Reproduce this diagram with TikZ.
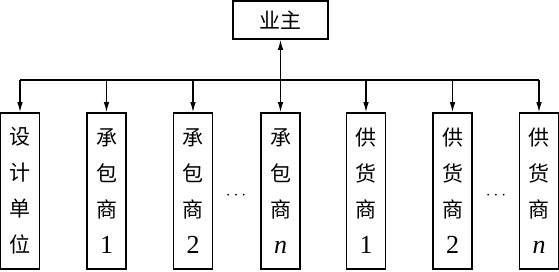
\documentclass[tikz,border=0pt]{standalone}
\usepackage{fontspec}
\setmainfont{Liberation Serif}
\newfontfamily\cjk{Noto Sans CJK SC}
\usetikzlibrary{arrows.meta}
\newcommand{\numtxt}[1]{{\rmfamily\fontsize{26}{36}\selectfont #1}}
\begin{document}
\begin{tikzpicture}[x=1pt,y=-1pt,
  box/.style={draw, line width=1.6pt, minimum width=39pt, minimum height=156pt, inner sep=0pt, align=center, font=\fontsize{21}{36}\selectfont\cjk},
  topbox/.style={draw, line width=1.6pt, minimum width=95pt, minimum height=38pt, inner sep=0pt, font=\fontsize{21}{24}\selectfont\cjk},
  conn/.style={line width=1.1pt},
  arr/.style={conn, -{Latex[length=10pt,width=5.5pt]}},
  darr/.style={conn, {Latex[length=10pt,width=5.5pt]}-{Latex[length=10pt,width=5.5pt]}},
  dotsstyle/.style={font=\fontsize{16}{16}\selectfont}]
\useasboundingbox (0,0) rectangle (559,271);
\node[topbox] (owner) at (280.5,20) {业主};
\node[box] (d)  at (20,191)    {设\\计\\单\\位};
\node[box] (c1) at (106.5,191) {承\\包\\商\\\numtxt{1}};
\node[box] (c2) at (193,191)   {承\\包\\商\\\numtxt{2}};
\node[box] (cn) at (280.5,191) {承\\包\\商\\\numtxt{\itshape n}};
\node[box] (s1) at (366,191)   {供\\货\\商\\\numtxt{1}};
\node[box] (s2) at (452.5,191) {供\\货\\商\\\numtxt{2}};
\node[box] (sn) at (539,191)   {供\\货\\商\\\numtxt{\itshape n}};
\node[dotsstyle] (dots1) at (236,196) {$\cdots$};
\node[dotsstyle] (dots2) at (496,196) {$\cdots$};
\coordinate (bus) at (0,80);
\draw[conn] (d.north |- bus) -- (sn.north |- bus);
\foreach \n in {d,c1,c2,s1,s2,sn} {
  \draw[arr] (\n.north |- bus) -- (\n.north);
}
\draw[darr] (owner.south) -- (cn.north);
\end{tikzpicture}
\end{document}
